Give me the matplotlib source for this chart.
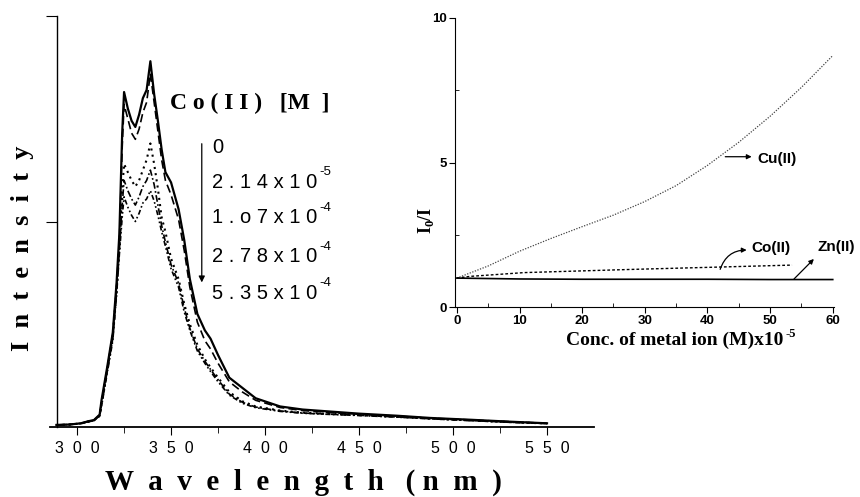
import matplotlib
matplotlib.use("Agg")
import matplotlib.pyplot as plt

# --- emission spectra, Co(II) quenching ---
wavelength = [289, 296, 302, 306, 309, 312, 313, 316, 319, 321, 322.5, 324, 325, 327, 329,
              331, 333, 335, 337, 339, 341, 343, 345, 347, 350, 354, 357, 360, 364, 368,
              371, 375, 381, 388, 395, 408, 420, 435, 450, 470, 488, 510, 530, 550]
int_0 = [0.01, 0.012, 0.018, 0.028, 0.034, 0.06, 0.13, 0.29, 0.46, 0.70, 0.94, 1.43, 1.63, 1.55, 1.49,
         1.46, 1.52, 1.60, 1.64, 1.78, 1.62, 1.49, 1.35, 1.24, 1.19, 1.06, 0.91, 0.72, 0.55, 0.47,
         0.43, 0.35, 0.24, 0.19, 0.14, 0.10, 0.085, 0.075, 0.065, 0.055, 0.044, 0.035, 0.026, 0.018]
int_214e5 = [0.01, 0.012, 0.018, 0.028, 0.034, 0.058, 0.12, 0.28, 0.45, 0.68, 0.90, 1.36, 1.57, 1.50, 1.43,
             1.40, 1.45, 1.53, 1.58, 1.72, 1.58, 1.44, 1.30, 1.20, 1.13, 1.01, 0.86, 0.68, 0.51, 0.42,
             0.38, 0.31, 0.22, 0.17, 0.13, 0.095, 0.08, 0.07, 0.062, 0.053, 0.043, 0.034, 0.026, 0.018]
int_107e4 = [0.01, 0.012, 0.017, 0.026, 0.032, 0.055, 0.11, 0.27, 0.44, 0.66, 0.88, 1.15, 1.28, 1.24, 1.20,
             1.17, 1.20, 1.25, 1.30, 1.38, 1.28, 1.16, 1.02, 0.95, 0.82, 0.72, 0.60, 0.50, 0.40, 0.33,
             0.29, 0.24, 0.17, 0.125, 0.10, 0.08, 0.07, 0.064, 0.058, 0.05, 0.041, 0.032, 0.024, 0.017]
int_278e4 = [0.01, 0.012, 0.017, 0.026, 0.032, 0.054, 0.11, 0.27, 0.43, 0.65, 0.86, 1.08, 1.20, 1.15, 1.11,
             1.08, 1.12, 1.17, 1.20, 1.25, 1.18, 1.08, 0.98, 0.90, 0.79, 0.70, 0.58, 0.48, 0.38, 0.32,
             0.28, 0.23, 0.16, 0.12, 0.097, 0.078, 0.068, 0.062, 0.057, 0.049, 0.04, 0.031, 0.023, 0.017]
int_535e4 = [0.01, 0.012, 0.017, 0.025, 0.031, 0.053, 0.10, 0.26, 0.42, 0.64, 0.84, 1.02, 1.12, 1.07, 1.03,
             1.00, 1.04, 1.09, 1.11, 1.15, 1.10, 1.03, 0.95, 0.88, 0.77, 0.68, 0.56, 0.47, 0.37, 0.31,
             0.27, 0.22, 0.155, 0.115, 0.094, 0.076, 0.067, 0.061, 0.056, 0.048, 0.04, 0.031, 0.023, 0.017]
conc_base = ["0", "2 . 1 4 x 1 0", "1 . o 7 x 1 0", "2 . 7 8 x 1 0", "5 . 3 5 x 1 0"]
conc_exp = ["", "-5", "-4", "-4", "-4"]
wl_ticks = [300, 350, 400, 450, 500, 550]

# --- inset: I0/I vs concentration ---
cu_conc = [0, 5, 10, 15, 20, 25, 30, 35, 40, 45, 50, 55, 60]
cu_ratio = [1.0, 1.42, 1.93, 2.37, 2.78, 3.18, 3.65, 4.2, 4.9, 5.7, 6.6, 7.6, 8.7]
co_conc = [0, 2.14, 10.7, 27.8, 53.5]
co_ratio = [1.0, 1.06, 1.19, 1.30, 1.45]
zn_conc = [0, 10, 20, 30, 40, 50, 60]
zn_ratio = [1.0, 0.97, 0.96, 0.96, 0.96, 0.95, 0.95]

SERIF = "Liberation Serif"
SANS = "Liberation Sans"


def add_sup(axis, base, text, size, rise=0.72, **kw):
    # small raised text glued to the right end of another text
    axis.annotate(text, xy=(1, rise), xycoords=base, xytext=(1.5, 0), textcoords="offset points",
                  fontsize=size, va="bottom", ha="left", **kw)


fig = plt.figure(figsize=(8.6, 4.97), dpi=100)

# main spectra axes
ax = fig.add_axes([50 / 860, 70 / 497, 544 / 860, 411 / 497])
styles = [
    dict(ls="-", lw=1.6),
    dict(ls=(0, (5, 2.5)), lw=1.2),
    dict(ls=(0, (1, 2)), lw=1.5),
    dict(ls=(0, (4, 1.5, 1, 1.5)), lw=1.2),
    dict(ls=(0, (3, 1.5, 1, 1.5, 1, 1.5)), lw=1.2),
]
for series, st in zip([int_0, int_214e5, int_107e4, int_278e4, int_535e4], styles):
    ax.plot(wavelength, series, color="black", **st)

ax.set_xlim(285.6, 575)
ax.set_ylim(0, 2)
ax.spines["top"].set_visible(False)
ax.spines["right"].set_visible(False)
ax.spines["left"].set_position(("data", 289.4))
ax.spines["bottom"].set_linewidth(1.3)
ax.spines["left"].set_linewidth(1.0)
ax.set_xticks(wl_ticks)
ax.set_xticklabels(["  ".join(str(t)) for t in wl_ticks], fontfamily=SANS, fontsize=11.5)
ax.set_xticks([325, 375, 425, 475, 525], minor=True)
ax.set_yticks([1, 2])
ax.set_yticklabels([])
ax.tick_params(axis="x", which="major", direction="out", length=6, pad=4)
ax.tick_params(axis="x", which="minor", direction="out", length=4)
ax.tick_params(axis="y", direction="out", length=8)

# concentration legend with arrow
ax.text(0.2206, 0.788, "C o ( I I )   [M  ]", transform=ax.transAxes, fontfamily=SERIF,
        fontweight="bold", fontsize=17, va="center", ha="left")
ax.annotate("", xy=(0.279, 0.345), xytext=(0.279, 0.696), xycoords="axes fraction",
            arrowprops=dict(arrowstyle="-|>", color="black", lw=0.9, mutation_scale=9))
for base_txt, exp_txt, yf in zip(conc_base, conc_exp, [0.681, 0.596, 0.509, 0.414, 0.326]):
    t = ax.text(0.2978, yf, base_txt, transform=ax.transAxes, fontfamily=SANS, fontsize=14.5,
                va="center", ha="left")
    if exp_txt:
        add_sup(ax, t, exp_txt, 9.5, fontfamily=SANS)

fig.text(23 / 860, 1 - 248 / 497, "I  n  t  e  n  s  i  t  y", rotation=90, fontfamily=SERIF,
         fontweight="bold", fontsize=19, ha="center", va="center")
fig.text(303 / 860, 1 - 482 / 497, "W  a  v  e  l  e  n  g  t  h   ( n  m  )", fontfamily=SERIF,
         fontweight="bold", fontsize=21, ha="center", va="center")

# inset
ins = fig.add_axes([455 / 860, 190 / 497, 379 / 860, 289 / 497])
ins.set_facecolor("none")
ins.plot(cu_conc, cu_ratio, color="#444444", ls=(0, (1, 1.2)), lw=0.9)
ins.plot(co_conc, co_ratio, color="black", ls=(0, (2, 1.5)), lw=1.0)
ins.plot(zn_conc, zn_ratio, color="black", ls="-", lw=1.2)
ins.set_xlim(-0.3, 60.2)
ins.set_ylim(0, 10)
ins.spines["top"].set_visible(False)
ins.spines["right"].set_visible(False)
ins.set_xticks([0, 10, 20, 30, 40, 50, 60])
ins.set_xticks([5, 15, 25, 35, 45, 55], minor=True)
ins.set_yticks([0, 5, 10])
ins.set_yticks([2.5, 7.5], minor=True)
ins.tick_params(which="major", direction="out", length=4, pad=2, labelsize=9.5)
ins.tick_params(which="minor", direction="in", length=3)
for lab in ins.get_xticklabels() + ins.get_yticklabels():
    lab.set_fontfamily(SANS)
    lab.set_fontweight("bold")
ins.set_xlabel("Conc. of metal ion (M)x10", fontfamily=SERIF, fontweight="bold", fontsize=14)
ins.xaxis.set_label_coords(0.58, -0.085)
add_sup(ins, ins.xaxis.label, "-5", 9, rise=0.5, fontfamily=SERIF, fontweight="bold")
ins.set_ylabel(r"I$_{\mathregular{0}}$/I", fontfamily=SERIF, fontweight="bold", fontsize=13)
ins.yaxis.set_label_coords(-0.05, 0.30)

ins.text(47.9, 5.12, "Cu(II)", fontfamily=SANS, fontweight="bold", fontsize=11, va="center")
ins.annotate("", xy=(47.5, 5.2), xytext=(42.4, 5.2),
             arrowprops=dict(arrowstyle="-|>", color="black", lw=0.9, mutation_scale=7))
ins.text(47.0, 2.04, "Co(II)", fontfamily=SANS, fontweight="bold", fontsize=11, va="center")
ins.annotate("", xy=(46.7, 1.97), xytext=(41.9, 1.21),
             arrowprops=dict(arrowstyle="-|>", color="black", lw=0.9, mutation_scale=7,
                             connectionstyle="arc3,rad=-0.4"))
ins.text(57.5, 2.08, "Zn(II)", fontfamily=SANS, fontweight="bold", fontsize=11, va="center")
ins.annotate("", xy=(57.3, 1.73), xytext=(53.5, 0.9),
             arrowprops=dict(arrowstyle="-|>", color="black", lw=0.9, mutation_scale=7))

fig.savefig("out.png", dpi=100)
